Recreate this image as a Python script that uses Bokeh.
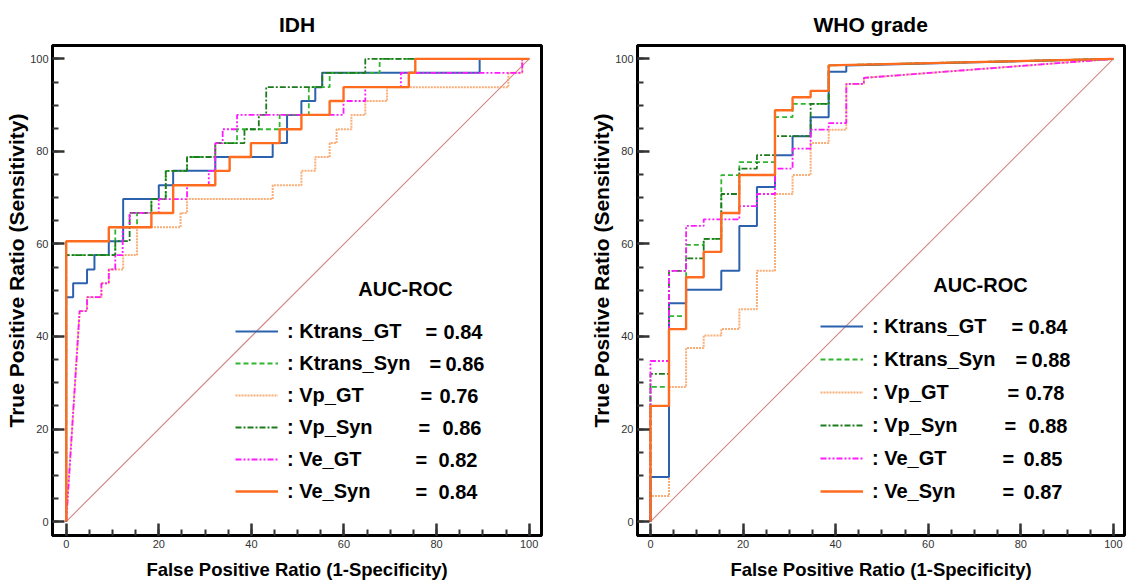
from bokeh.plotting import figure
from bokeh.models import Range1d, FixedTicker, Legend, LegendItem, Label, Title
from bokeh.layouts import row
from bokeh.embed import file_html
from bokeh.resources import INLINE

# ---------------- data ----------------
series_names = ["Ktrans_GT", "Ktrans_Syn", "Vp_GT", "Vp_Syn", "Ve_GT", "Ve_Syn"]
idh_auc = [0.84, 0.86, 0.76, 0.86, 0.82, 0.84]
who_auc = [0.84, 0.88, 0.78, 0.88, 0.85, 0.87]
axis_ticks = [0, 20, 40, 60, 80, 100]
minor_axis_ticks = [0, 5, 10, 15, 20, 25, 30, 35, 40, 45, 50, 55, 60, 65, 70, 75, 80, 85, 90, 95, 100]
chance_line = [0, 100]

# IDH panel (false positive ratio / true positive ratio, in %)
idh_ktrans_gt_fpr = [0, 0, 1.5, 1.5, 4.5, 4.5, 6.1, 6.1, 9.2, 9.2, 12.3, 12.3, 20.0, 20.0, 23.1, 23.1,
                     32.2, 32.2, 44.6, 44.6, 47.7, 47.7, 50.8, 50.8, 53.8, 53.8, 55.3, 55.3, 89.3, 89.3, 100]
idh_ktrans_gt_tpr = [0, 48.5, 48.5, 51.5, 51.5, 54.5, 54.5, 57.6, 57.6, 60.6, 60.6, 69.7, 69.7, 72.7, 72.7, 75.8,
                     75.8, 78.8, 78.8, 81.8, 81.8, 87.9, 87.9, 90.9, 90.9, 93.9, 93.9, 97.0, 97.0, 100, 100]

idh_ktrans_syn_fpr = [0, 0, 10.6, 10.6, 15.3, 15.3, 18.4, 18.4, 21.5, 21.5, 26.1, 26.1, 32.2, 32.2, 36.9, 36.9,
                      46.1, 46.1, 52.4, 52.4, 56.9, 56.9, 67.7, 67.7, 100]
idh_ktrans_syn_tpr = [0, 57.6, 57.6, 63.6, 63.6, 66.7, 66.7, 69.7, 69.7, 75.8, 75.8, 78.8, 78.8, 81.8, 81.8, 84.8,
                      84.8, 87.9, 87.9, 93.9, 93.9, 97.0, 97.0, 100, 100]

idh_vp_gt_fpr = [0, 2.9, 4.5, 4.5, 7.6, 7.6, 9.2, 9.2, 12.3, 12.3, 15.3, 15.3, 24.7, 24.7, 26.1, 26.1,
                 44.6, 44.6, 50.8, 50.8, 53.8, 53.8, 56.9, 56.9, 58.4, 58.4, 61.6, 61.6, 64.6, 64.6,
                 69.3, 69.3, 95.5, 95.5, 98.5, 98.5, 100]
idh_vp_gt_tpr = [0, 45.5, 45.5, 48.5, 48.5, 51.5, 51.5, 54.5, 54.5, 57.6, 57.6, 63.6, 63.6, 66.7, 66.7, 69.7,
                 69.7, 72.7, 72.7, 75.8, 75.8, 78.8, 78.8, 81.8, 81.8, 84.8, 84.8, 87.9, 87.9, 90.9,
                 90.9, 93.9, 93.9, 97.0, 97.0, 100, 100]

idh_vp_syn_fpr = [0, 0, 10.6, 10.6, 13.7, 13.7, 18.4, 18.4, 21.5, 21.5, 26.1, 26.1, 32.2, 32.2, 38.5, 38.5,
                  41.6, 41.6, 43.2, 43.2, 55.3, 55.3, 64.6, 64.6, 100]
idh_vp_syn_tpr = [0, 57.6, 57.6, 60.6, 60.6, 66.7, 66.7, 69.7, 69.7, 75.8, 75.8, 78.8, 78.8, 81.8, 81.8, 84.8,
                  84.8, 87.9, 87.9, 93.9, 93.9, 97.0, 97.0, 100, 100]

idh_ve_gt_fpr = [0, 2.9, 4.5, 4.5, 7.6, 7.6, 9.2, 9.2, 10.6, 10.6, 12.2, 12.2, 13.7, 13.7, 20.0, 20.0,
                 26.1, 26.1, 30.8, 30.8, 32.2, 32.2, 33.8, 33.8, 36.9, 36.9, 59.9, 59.9, 64.6, 64.6,
                 72.3, 72.3, 98.5, 98.5, 100]
idh_ve_gt_tpr = [0, 45.5, 45.5, 48.5, 48.5, 51.5, 51.5, 54.5, 54.5, 57.6, 57.6, 63.6, 63.6, 66.7, 66.7, 69.7,
                 69.7, 72.7, 72.7, 75.8, 75.8, 81.8, 81.8, 84.8, 84.8, 87.9, 87.9, 90.9, 90.9, 93.9,
                 93.9, 97.0, 97.0, 100, 100]

idh_ve_syn_fpr = [0, 0, 9.2, 9.2, 18.4, 18.4, 23.1, 23.1, 32.2, 32.2, 35.3, 35.3, 39.9, 39.9, 46.1, 46.1,
                  50.8, 50.8, 56.9, 56.9, 59.9, 59.9, 74.0, 74.0, 75.4, 75.4, 100]
idh_ve_syn_tpr = [0, 60.6, 60.6, 63.6, 63.6, 66.7, 66.7, 72.7, 72.7, 75.8, 75.8, 78.8, 78.8, 81.8, 81.8, 84.8,
                  84.8, 87.9, 87.9, 90.9, 90.9, 93.9, 93.9, 97.0, 97.0, 100, 100]

# WHO grade panel
who_ktrans_gt_fpr = [0, 0, 4.0, 4.0, 7.7, 7.7, 15.3, 15.3, 19.2, 19.2, 23.0, 23.0, 26.9, 26.9, 30.7, 30.7,
                     34.6, 34.6, 38.5, 38.5, 42.3, 42.3, 100]
who_ktrans_gt_tpr = [0, 9.6, 9.6, 47.2, 47.2, 50.1, 50.1, 54.2, 54.2, 63.9, 63.9, 72.3, 72.3, 79.2, 79.2, 83.3,
                     83.3, 87.4, 87.4, 97.2, 97.2, 98.6, 100]

who_ktrans_syn_fpr = [0, 0, 4.0, 4.0, 7.7, 7.7, 11.5, 11.5, 15.3, 15.3, 19.2, 19.2, 26.9, 26.9, 30.7, 30.7,
                      38.5, 38.5, 100]
who_ktrans_syn_tpr = [0, 29.1, 29.1, 44.4, 44.4, 59.8, 59.8, 61.1, 61.1, 74.9, 74.9, 77.7, 77.7, 87.4, 87.4, 90.3,
                      90.3, 98.6, 100]

who_vp_gt_fpr = [0, 0, 4.0, 4.0, 7.7, 7.7, 11.5, 11.5, 15.3, 15.3, 19.2, 19.2, 23.0, 23.0, 26.9, 26.9,
                 30.7, 30.7, 34.6, 34.6, 38.5, 38.5, 42.3, 42.3, 46.1, 46.1, 100]
who_vp_gt_tpr = [0, 5.5, 5.5, 29.1, 29.1, 37.5, 37.5, 40.2, 40.2, 41.6, 41.6, 45.9, 45.9, 54.2, 54.2, 70.8,
                 70.8, 74.9, 74.9, 81.8, 81.8, 84.7, 84.7, 94.6, 94.6, 95.9, 100]

who_vp_syn_fpr = [0, 0, 4.0, 4.0, 7.7, 7.7, 11.5, 11.5, 15.3, 15.3, 19.2, 19.2, 23.0, 23.0, 26.9, 26.9,
                  34.6, 34.6, 38.5, 38.5, 100]
who_vp_syn_tpr = [0, 31.9, 31.9, 54.2, 54.2, 56.9, 56.9, 61.1, 61.1, 70.8, 70.8, 76.3, 76.3, 79.2, 79.2, 83.3,
                  83.3, 90.3, 90.3, 98.6, 100]

who_ve_gt_fpr = [0, 0, 4.0, 4.0, 7.7, 7.7, 11.5, 11.5, 19.2, 19.2, 23.0, 23.0, 26.9, 26.9, 30.7, 30.7,
                 34.6, 34.6, 38.5, 38.5, 42.3, 42.3, 46.1, 46.1, 100]
who_ve_gt_tpr = [0, 34.7, 34.7, 54.2, 54.2, 63.9, 63.9, 65.3, 65.3, 68.2, 68.2, 70.8, 70.8, 76.3, 76.3, 80.6,
                 80.6, 84.7, 84.7, 86.1, 86.1, 94.6, 94.6, 95.9, 100]

who_ve_syn_fpr = [0, 0, 4.0, 4.0, 7.7, 7.7, 11.5, 11.5, 15.3, 15.3, 19.2, 19.2, 26.9, 26.9, 30.7, 30.7,
                  34.6, 34.6, 38.5, 38.5, 100]
who_ve_syn_tpr = [0, 25.0, 25.0, 41.6, 41.6, 52.8, 52.8, 58.3, 58.3, 66.7, 66.7, 74.9, 74.9, 88.9, 88.9, 91.7,
                  91.7, 93.1, 93.1, 98.6, 100]

# ---------------- styles ----------------
FONT = "Liberation Sans"
line_styles = [
    dict(color="#2c62ad", width=2.0, dash="solid", alpha=1.0),        # Ktrans_GT
    dict(color="#2fb52f", width=1.8, dash="5 3", alpha=1.0),          # Ktrans_Syn
    dict(color="#f79a55", width=2.0, dash="2 1", alpha=0.8),          # Vp_GT
    dict(color="#1d7a1d", width=1.8, dash="6 2 2 2", alpha=1.0),      # Vp_Syn
    dict(color="#ff19ff", width=1.8, dash="6 2 2 2 2 2", alpha=1.0),  # Ve_GT
    dict(color="#ff6c1f", width=2.4, dash="solid", alpha=1.0),        # Ve_Syn
]
draw_order = [2, 0, 1, 3, 4, 5]
ITEM_H = 24


def make_panel(title_text, fprs, tprs, aucs, width, min_right, x_start, x_end,
               leg_y, leg_spacing, eq_off, val_off, auc_pos, title_align, title_offset):
    p = figure(width=width, height=582, output_backend="svg", toolbar_location=None,
               x_range=Range1d(x_start, x_end), y_range=Range1d(-3.02, 102.9),
               min_border_left=52, min_border_right=min_right,
               min_border_top=45, min_border_bottom=46)
    p.background_fill_color = "white"
    p.border_fill_color = "white"
    p.outline_line_color = "black"
    p.outline_line_width = 3
    p.outline_line_alpha = 1.0
    p.grid.visible = False

    p.title.text = title_text
    p.title.align = title_align
    p.title.offset = title_offset
    p.title.text_font = FONT
    p.title.text_font_style = "bold"
    p.title.text_font_size = "21px"
    p.title.text_color = "black"
    p.title.standoff = 20

    for ax in (p.xaxis[0], p.yaxis[0]):
        ax.ticker = FixedTicker(ticks=axis_ticks, minor_ticks=minor_axis_ticks)
        ax.axis_line_color = "black"
        ax.axis_line_width = 3
        ax.major_tick_in = 12
        ax.major_tick_out = 0
        ax.minor_tick_in = 6
        ax.minor_tick_out = 0
        ax.major_tick_line_color = "#333333"
        ax.major_tick_line_width = 2.5
        ax.minor_tick_line_color = "#333333"
        ax.minor_tick_line_width = 2
        ax.major_label_text_font = FONT
        ax.major_label_text_font_size = "11px"
        ax.major_label_text_color = "#333333"
        ax.major_label_standoff = 4

    p.xaxis.axis_label = "False Positive Ratio (1-Specificity)"
    p.xaxis.axis_label_text_font = FONT
    p.xaxis.axis_label_text_font_style = "bold"
    p.xaxis.axis_label_text_font_size = "18.5px"
    p.xaxis.axis_label_text_color = "black"
    p.xaxis.axis_label_standoff = 8

    ytitle = Title(text="True Positive Ratio (Sensitivity)", align="left", offset=108,
                   standoff=0, text_font=FONT, text_font_style="bold",
                   text_font_size="21px", text_color="black")
    p.add_layout(ytitle, "left")

    p.line(chance_line, chance_line, line_color="#d08585", line_width=1.1)

    renderers = [None] * len(series_names)
    for i in draw_order:
        s = line_styles[i]
        renderers[i] = p.line(fprs[i], tprs[i], line_color=s["color"], line_width=s["width"],
                              line_dash=s["dash"], line_alpha=s["alpha"])

    items = [LegendItem(label=": " + n, renderers=[r]) for n, r in zip(series_names, renderers)]
    leg = Legend(items=items, location=(183, leg_y), orientation="vertical", padding=0, margin=0,
                 spacing=leg_spacing, glyph_width=43, glyph_height=ITEM_H, label_height=ITEM_H,
                 label_standoff=9, border_line_color=None, background_fill_alpha=0,
                 label_text_font=FONT, label_text_font_style="bold", label_text_font_size="20px",
                 label_text_color="black")
    p.add_layout(leg)

    n = len(series_names)
    for i in range(n):
        yc = leg_y + ITEM_H / 2 + (n - 1 - i) * (ITEM_H + leg_spacing)
        p.add_layout(Label(x=183 + eq_off[i], y=yc, x_units="screen", y_units="screen", text="=",
                           text_baseline="middle", text_font=FONT, text_font_style="bold",
                           text_font_size="20px", text_color="black"))
        p.add_layout(Label(x=183 + val_off[i], y=yc, x_units="screen", y_units="screen",
                           text=f"{aucs[i]:.2f}", text_baseline="middle", text_font=FONT,
                           text_font_style="bold", text_font_size="20px", text_color="black"))

    p.add_layout(Label(x=auc_pos[0], y=auc_pos[1], x_units="screen", y_units="screen", text="AUC-ROC",
                       text_align="center", text_baseline="middle", text_font=FONT,
                       text_font_style="bold", text_font_size="20px", text_color="black"))
    return p


idh_fprs = [idh_ktrans_gt_fpr, idh_ktrans_syn_fpr, idh_vp_gt_fpr, idh_vp_syn_fpr, idh_ve_gt_fpr, idh_ve_syn_fpr]
idh_tprs = [idh_ktrans_gt_tpr, idh_ktrans_syn_tpr, idh_vp_gt_tpr, idh_vp_syn_tpr, idh_ve_gt_tpr, idh_ve_syn_tpr]
who_fprs = [who_ktrans_gt_fpr, who_ktrans_syn_fpr, who_vp_gt_fpr, who_vp_syn_fpr, who_ve_gt_fpr, who_ve_syn_fpr]
who_tprs = [who_ktrans_gt_tpr, who_ktrans_syn_tpr, who_vp_gt_tpr, who_vp_syn_tpr, who_ve_gt_tpr, who_ve_syn_tpr]

p1 = make_panel("IDH", idh_fprs, idh_tprs, idh_auc, width=585, min_right=44,
                x_start=-2.96, x_end=102.66, leg_y=32, leg_spacing=8,
                eq_off=[190, 194, 185, 183, 180, 180], val_off=[208, 210, 204, 207, 203, 203],
                auc_pos=(353, 247), title_align="center", title_offset=0)
p2 = make_panel("WHO grade", who_fprs, who_tprs, who_auc, width=541, min_right=2,
                x_start=-2.8, x_end=102.4, leg_y=32, leg_spacing=9,
                eq_off=[191, 195, 187, 184, 182, 182], val_off=[208, 211, 205, 208, 203, 203],
                auc_pos=(343, 251), title_align="left", title_offset=176)

layout = row(p1, p2)
open("out.html", "w").write(file_html(layout, INLINE))
